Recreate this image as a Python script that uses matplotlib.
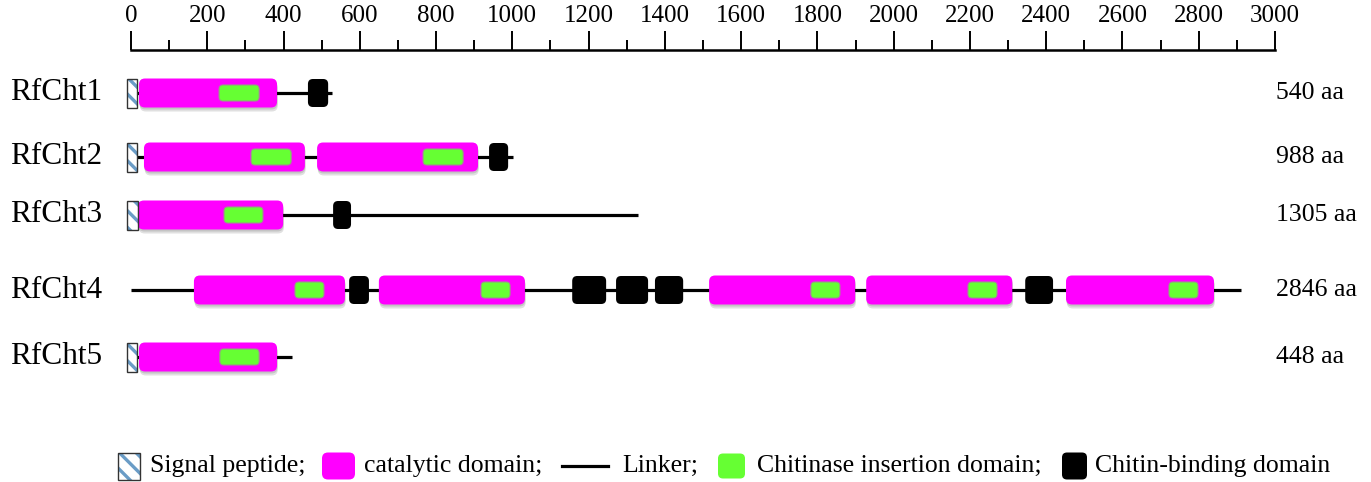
import matplotlib.pyplot as plt
from matplotlib.patches import FancyBboxPatch, Rectangle
from matplotlib.ticker import MultipleLocator

plt.rcParams['font.family'] = ['Liberation Serif', 'DejaVu Serif']
plt.rcParams['hatch.linewidth'] = 2.4

# protein names and lengths (aa)
proteins = ['RfCht1', 'RfCht2', 'RfCht3', 'RfCht4', 'RfCht5']
lengths = [540, 988, 1305, 2846, 448]

# drawn extent of each linker line (aa)
line_start = [0, 0, 0, 0, 0]
line_end = [527, 1002, 1330, 2911, 423]

# domains as (start, end) in aa
signal = [(-10, 16), (-10, 16), (-10, 18), None, (-10, 16)]
catalytic = [
    [(21, 383)],
    [(34, 456), (488, 910)],
    [(18, 399)],
    [(165, 561), (650, 1033), (1516, 1899), (1928, 2311), (2452, 2840)],
    [(21, 383)],
]
insertion = [
    [(231, 336)],
    [(315, 420), (766, 871)],
    [(244, 346)],
    [(430, 506), (918, 994), (1783, 1859), (2195, 2271), (2722, 2798)],
    [(233, 336)],
]
chitin_binding = [
    [(464, 517)],
    [(939, 989)],
    [(530, 577)],
    [(572, 624), (1157, 1246), (1272, 1356), (1374, 1448), (2345, 2418)],
    [],
]

# layout (pixel rows)
W, H = 1371, 482
row_y = [93, 157, 215, 290, 357]
x0_px, x1_px, axis_px = 131, 1275, 50
sx = (x1_px - x0_px) / 3000.0  # px per aa

MAGENTA = '#ff00ff'
GREEN = '#66ff33'
HATCH = '#6a9cc6'

fig = plt.figure(figsize=(W / 100, H / 100), dpi=100)
ax = fig.add_axes([x0_px / W, 0, (x1_px - x0_px) / W, 1 - axis_px / H])
ax.set_xlim(0, 3000)
ax.set_ylim(H, axis_px)
for s in ['left', 'right', 'bottom']:
    ax.spines[s].set_visible(False)
ax.spines['top'].set_linewidth(1.8)
ax.set_yticks([])
ax.xaxis.tick_top()
ax.xaxis.set_major_locator(MultipleLocator(200))
ax.xaxis.set_minor_locator(MultipleLocator(100))
ax.tick_params(which='major', length=13.5, width=1.4, labelsize=18, pad=3)
ax.tick_params(which='minor', length=7, width=1.4)


def rbox(a, b, yc, h, r_px, **kw):
    return FancyBboxPatch((a, yc - h / 2), b - a, h,
                          boxstyle=f'round,pad=0,rounding_size={r_px / sx}',
                          mutation_aspect=sx, clip_on=False, **kw)


for i, y in enumerate(row_y):
    ax.hlines(y, line_start[i], line_end[i], color='black', lw=2.3, zorder=1)
    if signal[i] is not None:
        a, b = signal[i]
        ax.add_patch(Rectangle((a, y - 14.5), b - a, 29, facecolor='white',
                               edgecolor=HATCH, hatch='\\\\', lw=0,
                               zorder=3, clip_on=False))
        ax.add_patch(Rectangle((a, y - 14.5), b - a, 29, fill=False,
                               edgecolor='#333333', lw=1, zorder=4,
                               clip_on=False))
    for a, b in catalytic[i]:
        ax.add_patch(rbox(a + 2, b + 2, y + 4, 29, 6, facecolor=(0, 0, 0, 0.12),
                          edgecolor='none', zorder=2))
        ax.add_patch(rbox(a + 1, b + 1, y + 2, 29, 6, facecolor=(0, 0, 0, 0.12),
                          edgecolor='none', zorder=2))
        ax.add_patch(rbox(a, b, y, 29, 6, facecolor=MAGENTA,
                          edgecolor='none', zorder=3))
    for a, b in insertion[i]:
        ax.add_patch(rbox(a, b, y, 16, 4, facecolor=GREEN,
                          edgecolor='#9a9a8a', lw=0.8, zorder=4))
    for a, b in chitin_binding[i]:
        ax.add_patch(rbox(a, b, y, 28, 5, facecolor='black',
                          edgecolor='none', zorder=3))

# overlay for labels and legend
lax = fig.add_axes([0, 0, 1, 1])
lax.set_xlim(0, W)
lax.set_ylim(H, 0)
lax.axis('off')
lax.patch.set_alpha(0)

for name, L, y in zip(proteins, lengths, row_y):
    lax.text(10, y, name, fontsize=22.5, va='center', ha='left')
    lax.text(1276, y, f'{L} aa', fontsize=18.5, va='center', ha='left')

ly = 466
lax.add_patch(Rectangle((118, ly - 13.5), 22, 27, facecolor='white',
                        edgecolor=HATCH, hatch='\\\\', lw=0))
lax.add_patch(Rectangle((118, ly - 13.5), 22, 27, fill=False,
                        edgecolor='#333333', lw=1))
lax.text(150, ly, 'Signal peptide;', fontsize=18.5, va='center')
lax.add_patch(FancyBboxPatch((322, ly - 13.5), 33, 27,
                             boxstyle='round,pad=0,rounding_size=6',
                             facecolor=MAGENTA, edgecolor='none'))
lax.text(364, ly, 'catalytic domain;', fontsize=18.5, va='center')
lax.plot([562, 608], [ly, ly], color='black', lw=2.3)
lax.text(622, ly, 'Linker;', fontsize=18.5, va='center')
lax.add_patch(FancyBboxPatch((718, ly - 12.5), 27, 25,
                             boxstyle='round,pad=0,rounding_size=5',
                             facecolor=GREEN, edgecolor='none'))
lax.text(757, ly, 'Chitinase insertion domain;', fontsize=18.5, va='center')
lax.add_patch(FancyBboxPatch((1062, ly - 13.5), 25, 27,
                             boxstyle='round,pad=0,rounding_size=5',
                             facecolor='black', edgecolor='none'))
lax.text(1095, ly, 'Chitin-binding domain', fontsize=18.5, va='center')

fig.savefig('out.png', dpi=100, facecolor='white')
